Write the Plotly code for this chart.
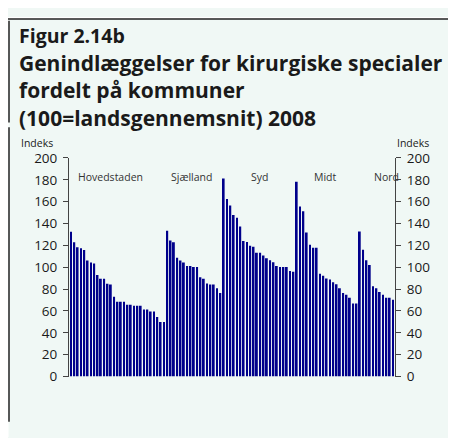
import plotly.graph_objects as go

W, H = 456, 438
OFF = 8  # the page body adds an 8px margin around the figure

# Index values per municipality (100 = national average)
hovedstaden = [132.5, 122.8, 118.4, 117.3, 115.8, 106.1, 104.4, 103.5, 93.0, 89.5,
               89.5, 85.0, 84.2, 73.0, 68.4, 68.4, 68.4, 65.8, 65.8, 64.9,
               64.9, 64.9, 61.4, 61.4, 59.6, 59.6, 54.4, 50.0, 50.0]
sjaelland = [133.3, 124.6, 122.8, 108.8, 106.1, 104.4, 101.1, 101.1, 100.2, 100.2,
             90.8, 89.6, 85.2, 84.3, 84.3, 80.8, 76.4]
syd = [181.2, 162.5, 156.6, 147.9, 145.2, 137.2, 124.0, 123.1, 119.6, 118.7,
       113.4, 113.4, 110.8, 108.2, 106.4, 104.6, 101.1, 100.2, 100.2, 100.2,
       96.7, 95.8]
midt = [178.3, 155.7, 151.3, 131.9, 120.5, 117.9, 117.9, 94.1, 92.3, 89.7,
        88.8, 86.2, 84.4, 80.9, 76.5, 74.8, 72.1, 66.8, 66.8]
nord = [132.8, 116.1, 106.4, 102.0, 82.7, 80.9, 77.4, 74.8, 72.1, 72.1, 70.4]

regions = ["Hovedstaden", "Sjælland", "Syd", "Midt", "Nord"]
values = hovedstaden + sjaelland + syd + midt + nord
x = list(range(len(values)))

y_ticks = list(range(0, 201, 20))

BAR = "#00008b"
BG = "#f0f8f5"
TXT = "#1a1a1a"
FONT = "Open Sans"


# page pixel -> paper fraction
def px(v):
    return (v - OFF) / W


def py(v):
    return 1 - (v - OFF) / H


fig = go.Figure()
fig.add_trace(go.Bar(x=x, y=values, marker_color=BAR, marker_line_width=0,
                     width=0.55, hoverinfo="skip"))
# invisible twin so the right-hand axis is drawn
fig.add_trace(go.Scatter(x=x, y=values, yaxis="y2", mode="lines",
                         line=dict(width=0), opacity=0, hoverinfo="skip"))

axis_common = dict(
    range=[0, 200], tickvals=y_ticks, ticks="outside", ticklen=5,
    tickcolor="#444", showline=True, linecolor="#444", linewidth=1,
    showgrid=False, zeroline=False, ticklabelstandoff=3,
    tickfont=dict(family=FONT, size=13.5, color=TXT),
    domain=[py(383), py(155)],
)

fig.update_layout(
    width=W, height=H,
    margin=dict(l=0, r=0, t=0, b=0),
    paper_bgcolor=BG,
    plot_bgcolor=BG,
    showlegend=False,
    xaxis=dict(range=[-0.6, 97.6], domain=[px(69), px(395)], showticklabels=False,
               showline=False, showgrid=False, zeroline=False, ticks=""),
    yaxis=dict(side="left", **axis_common),
    yaxis2=dict(side="right", overlaying="y", **axis_common),
)

# white strip above the top rule, then the frame lines
fig.add_shape(type="rect", xref="paper", yref="paper", x0=0, x1=1, y0=py(10), y1=1,
              fillcolor="white", line_width=0, layer="below")
fig.add_shape(type="rect", xref="paper", yref="paper", x0=0, x1=px(8.5), y0=0, y1=1,
              fillcolor="white", line_width=0, layer="below")
fig.add_shape(type="line", xref="paper", yref="paper", x0=px(8), x1=1, y0=py(10), y1=py(10),
              line=dict(color="#222", width=1.5))
fig.add_shape(type="line", xref="paper", yref="paper", x0=px(9), x1=px(9), y0=py(12), y1=py(118),
              line=dict(color="#222", width=1.5))
fig.add_shape(type="line", xref="paper", yref="paper", x0=px(9), x1=px(9), y0=py(123), y1=py(430),
              line=dict(color="#222", width=1.5))

fig.add_annotation(text="<b>Figur 2.14b</b>", xref="paper", yref="paper",
                   x=px(17), y=py(27), xanchor="left", yanchor="middle", showarrow=False,
                   font=dict(family=FONT, size=19.5, color=TXT))
title_lines = ["Genindlæggelser for kirurgiske specialer",
               "fordelt på kommuner",
               "(100=landsgennemsnit) 2008"]
fig.add_annotation(text="<br>".join("<b>" + t + "</b>" for t in title_lines),
                   xref="paper", yref="paper", x=px(17), y=py(85),
                   xanchor="left", yanchor="middle", align="left", showarrow=False,
                   font=dict(family=FONT, size=21, color=TXT))

for xc in (37, 413):
    fig.add_annotation(text="Indeks", xref="paper", yref="paper", x=px(xc), y=py(139),
                       xanchor="center", yanchor="middle", showarrow=False,
                       font=dict(family=FONT, size=10.5, color=TXT))

label_x = [76, 169, 249, 312, 372]
for name, lx in zip(regions, label_x):
    fig.add_annotation(text=name, xref="paper", yref="paper", x=px(lx), y=py(175),
                       xanchor="left", yanchor="middle", showarrow=False,
                       font=dict(family=FONT, size=10.5, color="#333"))

fig.write_html("out.html")
